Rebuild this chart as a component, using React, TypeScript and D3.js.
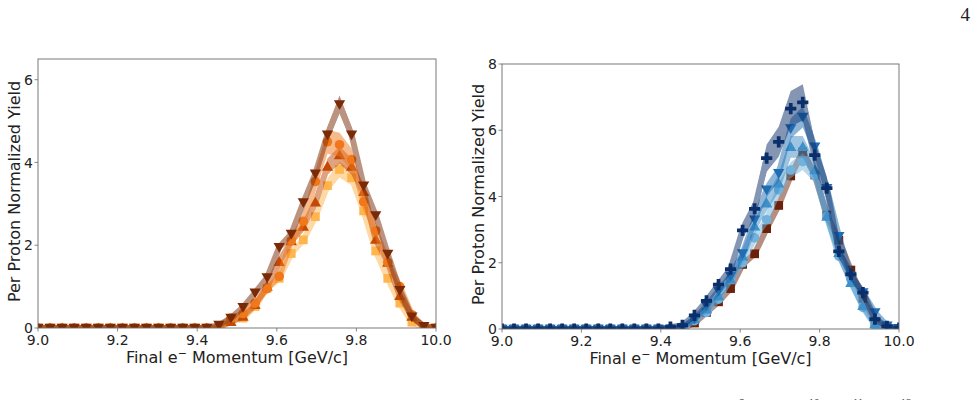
import { useEffect, useRef } from 'react';
import * as d3 from 'd3';

// 34 momentum bins between 9 and 10 GeV/c
const momentum = d3.range(34).map((i) => 9 + i / 33);

// left panel series
const orangeDown = [0, 0, 0, 0, 0, 0, 0, 0, 0, 0, 0, 0, 0, 0, 0, 0.07, 0.24, 0.5, 0.85, 1.22, 1.95, 2.27, 3.03, 3.73, 4.67, 5.4, 4.67, 3.44, 2.72, 1.79, 0.91, 0.27, 0.04, 0];
const orangeCircle = [0, 0, 0, 0, 0, 0, 0, 0, 0, 0, 0, 0, 0, 0, 0, 0.02, 0.24, 0.35, 0.6, 0.95, 1.25, 2.11, 2.58, 3.54, 4.5, 4.43, 4.07, 3.05, 2.35, 1.59, 1.0, 0.32, 0.03, 0];
const orangeUp = [0, 0, 0, 0, 0, 0, 0, 0, 0, 0, 0, 0, 0, 0, 0, 0.02, 0.15, 0.28, 0.56, 1.0, 1.6, 2.1, 2.45, 3.04, 3.9, 4.18, 3.9, 3.29, 2.14, 1.58, 0.78, 0.28, 0.02, 0];
const orangeSquare = [0, 0, 0, 0, 0, 0, 0, 0, 0, 0, 0, 0, 0, 0, 0, 0, 0.16, 0.24, 0.52, 0.96, 1.2, 1.8, 2.13, 2.69, 3.44, 3.83, 3.63, 2.83, 1.86, 1.2, 0.6, 0.14, 0, 0];

// right panel series
const bluePlus = [0, 0, 0, 0, 0, 0, 0, 0, 0, 0, 0, 0, 0, 0, 0.06, 0.11, 0.41, 0.85, 1.34, 1.81, 2.98, 3.63, 5.16, 5.65, 6.65, 6.84, 5.25, 4.25, 2.34, 1.65, 1.1, 0.3, 0.08, 0.03];
const blueDown = [0, 0, 0, 0, 0, 0, 0, 0, 0, 0, 0, 0, 0, 0, 0, 0.05, 0.3, 0.7, 1.15, 1.6, 2.28, 3.3, 4.2, 4.7, 6.05, 6.4, 5.5, 4.25, 2.8, 1.6, 1.1, 0.5, 0.1, 0.02];
const blueUp = [0, 0, 0, 0, 0, 0, 0, 0, 0, 0, 0, 0, 0, 0, 0, 0.03, 0.3, 0.6, 1.0, 1.5, 2.2, 3.1, 3.8, 4.4, 5.5, 5.5, 4.8, 3.4, 2.3, 1.4, 0.7, 0.15, 0.02, 0];
const blueCircle = [0, 0, 0, 0, 0, 0, 0, 0, 0, 0, 0, 0, 0, 0, 0, 0.02, 0.25, 0.5, 0.9, 1.5, 2.0, 2.75, 3.3, 4.2, 4.8, 5.05, 4.65, 3.4, 2.2, 1.5, 0.65, 0.1, 0.01, 0];
const brownSquare = [0, 0, 0, 0, 0, 0, 0, 0, 0, 0, 0, 0, 0, 0, 0, 0.02, 0.18, 0.5, 0.82, 1.22, 1.95, 2.27, 3.03, 3.73, 4.62, 5.35, 4.65, 3.44, 2.68, 1.78, 0.92, 0.22, 0.02, 0];

const xTicks = [9.0, 9.2, 9.4, 9.6, 9.8, 10.0];
const leftYTicks = [0, 2, 4, 6];
const rightYTicks = [0, 2, 4, 6, 8];

type Series = {
  values: number[];
  color: string;
  marker: 'down' | 'up' | 'circle' | 'square' | 'plus';
  rel: number;
};

const leftSeries: Series[] = [
  { values: orangeSquare, color: '#feb54e', marker: 'square', rel: 0.05 },
  { values: orangeUp, color: '#c24a05', marker: 'up', rel: 0.05 },
  { values: orangeCircle, color: '#f0781b', marker: 'circle', rel: 0.065 },
  { values: orangeDown, color: '#7a2a06', marker: 'down', rel: 0.04 },
];

const rightSeries: Series[] = [
  { values: brownSquare, color: '#6b2208', marker: 'square', rel: 0.04 },
  { values: blueCircle, color: '#72b2dc', marker: 'circle', rel: 0.05 },
  { values: blueUp, color: '#3f8fc8', marker: 'up', rel: 0.06 },
  { values: blueDown, color: '#1f6db3', marker: 'down', rel: 0.05 },
  { values: bluePlus, color: '#0b2f6b', marker: 'plus', rel: 0.08 },
];

const font = '"DejaVu Sans", sans-serif';

function drawPanel(
  svg: d3.Selection<SVGSVGElement, unknown, null, undefined>,
  id: string,
  box: { x0: number; x1: number; y0: number; y1: number },
  yMax: number,
  yTicks: number[],
  series: Series[],
  labelX: number,
) {
  const x = d3.scaleLinear().domain([9, 10]).range([box.x0, box.x1]);
  const y = d3.scaleLinear().domain([0, yMax]).range([box.y1, box.y0]);

  svg.append('clipPath').attr('id', id)
    .append('rect')
    .attr('x', box.x0).attr('y', box.y0)
    .attr('width', box.x1 - box.x0).attr('height', box.y1 - box.y0);

  const plot = svg.append('g').attr('clip-path', `url(#${id})`);

  const shapes = {
    down: d3.symbol(d3.symbolTriangle, 55)(),
    up: d3.symbol(d3.symbolTriangle, 55)(),
    circle: d3.symbol(d3.symbolCircle, 72)(),
    square: d3.symbol(d3.symbolSquare, 76)(),
    plus: d3.symbol(d3.symbolCross, 70)(),
  };

  series.forEach((s) => {
    const band = d3.area<number>()
      .x((_, i) => x(momentum[i]))
      .y0((d) => y(d * (1 - s.rel)))
      .y1((d) => y(d * (1 + s.rel)));
    const line = d3.line<number>()
      .x((_, i) => x(momentum[i]))
      .y((d) => y(d));

    // band and thick line share one translucent layer
    const shade = plot.append('g').attr('opacity', 0.5);
    shade.append('path').attr('d', band(s.values)!)
      .attr('fill', s.color);
    shade.append('path').attr('d', line(s.values)!)
      .attr('fill', 'none').attr('stroke', s.color)
      .attr('stroke-width', 6)
      .attr('stroke-linejoin', 'round');

    plot.append('g').selectAll('path')
      .data(s.values)
      .join('path')
      .attr('d', shapes[s.marker])
      .attr('transform', (d, i) => {
        const rot = s.marker === 'down' ? ' rotate(180)' : '';
        const dy = s.marker === 'down' ? -1 : s.marker === 'up' ? 1 : 0;
        return `translate(${x(momentum[i])},${y(d) + dy})${rot}`;
      })
      .attr('fill', s.color);
  });

  // frame
  svg.append('rect')
    .attr('x', box.x0).attr('y', box.y0)
    .attr('width', box.x1 - box.x0).attr('height', box.y1 - box.y0)
    .attr('fill', 'none').attr('stroke', '#6b6b6b').attr('stroke-width', 0.9);

  const tickColor = '#6b6b6b';
  svg.append('g').selectAll('line').data(xTicks).join('line')
    .attr('x1', (d) => x(d)).attr('x2', (d) => x(d))
    .attr('y1', box.y1).attr('y2', box.y1 + 3.5)
    .attr('stroke', tickColor).attr('stroke-width', 0.8);
  svg.append('g').selectAll('text').data(xTicks).join('text')
    .attr('x', (d) => x(d)).attr('y', box.y1 + 17)
    .attr('text-anchor', 'middle')
    .attr('font-family', font).attr('font-size', 14).attr('fill', '#222')
    .text((d) => d3.format('.1f')(d));

  svg.append('g').selectAll('line').data(yTicks).join('line')
    .attr('x1', box.x0 - 3.5).attr('x2', box.x0)
    .attr('y1', (d) => y(d)).attr('y2', (d) => y(d))
    .attr('stroke', tickColor).attr('stroke-width', 0.8);
  svg.append('g').selectAll('text').data(yTicks).join('text')
    .attr('x', box.x0 - 5).attr('y', (d) => y(d))
    .attr('dy', '0.36em')
    .attr('text-anchor', 'end')
    .attr('font-family', font).attr('font-size', 14).attr('fill', '#222')
    .text((d) => d3.format('d')(d));

  const xl = svg.append('text')
    .attr('x', (box.x0 + box.x1) / 2).attr('y', box.y1 + 35)
    .attr('text-anchor', 'middle')
    .attr('font-family', font).attr('font-size', 16).attr('fill', '#222');
  xl.append('tspan').text('Final e');
  xl.append('tspan').attr('dy', -6).attr('font-size', 11).text('−');
  xl.append('tspan').attr('dy', 6).text(' Momentum [GeV/c]');

  svg.append('text')
    .attr('transform', `translate(${labelX},${(box.y0 + box.y1) / 2 - 2}) rotate(-90)`)
    .attr('text-anchor', 'middle')
    .attr('dy', '0.35em')
    .attr('font-family', font).attr('font-size', 16).attr('fill', '#222')
    .text('Per Proton Normalized Yield');
}

export default function App() {
  const svgRef = useRef<SVGSVGElement>(null);

  useEffect(() => {
    if (!svgRef.current) return;
    const svg = d3.select(svgRef.current);
    svg.selectAll('*').remove();

    drawPanel(svg, 'clip-left', { x0: 38, x1: 436, y0: 59, y1: 328 }, 6.5, leftYTicks, leftSeries, 14);
    drawPanel(svg, 'clip-right', { x0: 502, x1: 899, y0: 64, y1: 329 }, 8, rightYTicks, rightSeries, 478);

    // page number
    svg.append('text')
      .attr('x', 970).attr('y', 21)
      .attr('text-anchor', 'end')
      .attr('font-family', '"Liberation Serif", serif').attr('font-size', 19).attr('fill', '#222')
      .text('4');

    // superscripts of the caption line below
    const sup = [
      { t: '9', x: 742 },
      { t: '10', x: 814 },
      { t: '11', x: 858 },
      { t: '12', x: 906 },
    ];
    svg.append('g').selectAll('text').data(sup).join('text')
      .attr('x', (d) => d.x).attr('y', 406)
      .attr('text-anchor', 'middle')
      .attr('font-family', '"Liberation Serif", serif').attr('font-size', 11).attr('fill', '#333')
      .text((d) => d.t);
  }, []);

  return (
    <svg
      ref={svgRef}
      width={975}
      height={400}
      style={{ position: 'absolute', left: 0, top: 0, background: '#fff' }}
    />
  );
}
